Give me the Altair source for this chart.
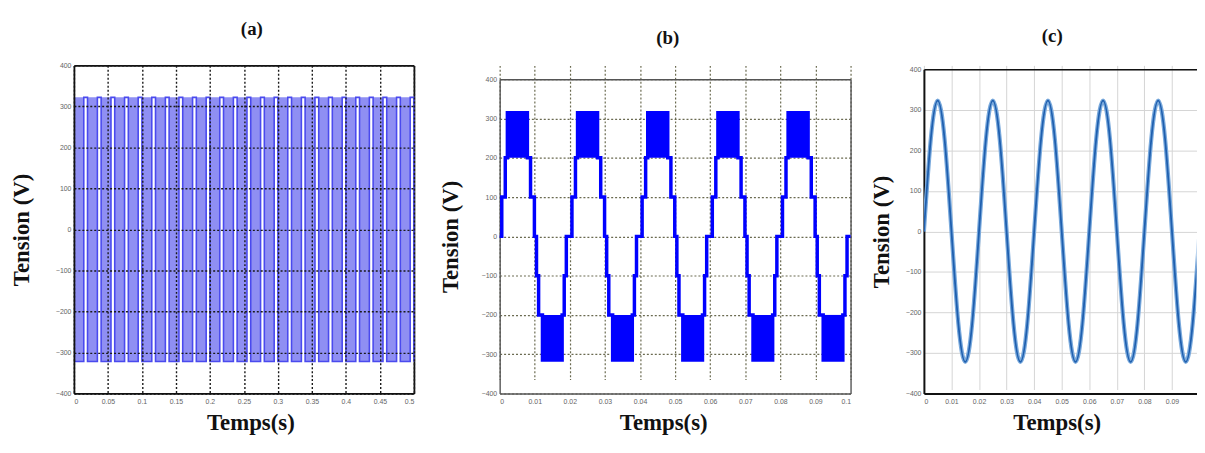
import altair as alt
import pandas as pd

# ---------------- data ----------------
# (a) two-level inverter output: one switching cycle every 0.02 s
a_cycle_start = [0.00, 0.02, 0.04, 0.06, 0.08, 0.10, 0.12, 0.14, 0.16, 0.18,
                 0.20, 0.22, 0.24, 0.26, 0.28, 0.30, 0.32, 0.34, 0.36, 0.38,
                 0.40, 0.42, 0.44, 0.46, 0.48]
a_band_length = 0.0145
a_high = 322
a_low = -322
a_x_ticks = [0, 0.05, 0.1, 0.15, 0.2, 0.25, 0.3, 0.35, 0.4, 0.45, 0.5]

# (b) multilevel staircase, one period = 0.02 s
b_period_start = [0.00, 0.02, 0.04, 0.06, 0.08]
b_step_t = [0.0000, 0.0006, 0.0016, 0.0022, 0.0079, 0.0088, 0.0099,
            0.0105, 0.0111, 0.0122, 0.0178, 0.0184, 0.0190]
b_step_v = [0, 100, 200, 315, 200, 100, 0, -100, -200, -315, -200, -100, 0]
b_block_t0 = [0.0022, 0.0122]
b_block_t1 = [0.0079, 0.0178]
b_block_lo = [200, -315]
b_block_hi = [315, -200]
b_end_t = 0.1
b_end_v = 0
b_x_ticks = [0, 0.01, 0.02, 0.03, 0.04, 0.05, 0.06, 0.07, 0.08, 0.09, 0.1]

# (c) filtered sinusoidal output
c_t = [0.0, 0.0025, 0.005, 0.0075, 0.01, 0.0125, 0.015, 0.0175, 0.02, 0.0225,
       0.025, 0.0275, 0.03, 0.0325, 0.035, 0.0375, 0.04, 0.0425, 0.045, 0.0475,
       0.05, 0.0525, 0.055, 0.0575, 0.06, 0.0625, 0.065, 0.0675, 0.07, 0.0725,
       0.075, 0.0775, 0.08, 0.0825, 0.085, 0.0875, 0.09, 0.0925, 0.095, 0.0975, 0.1]
c_v = [0, 228, 323, 228, 0, -228, -322, -228,
       0, 228, 323, 228, 0, -228, -322, -228,
       0, 228, 323, 228, 0, -228, -322, -228,
       0, 228, 323, 228, 0, -228, -322, -228,
       0, 228, 323, 228, 0, -228, -322, -228, 0]
c_x_ticks = [0, 0.01, 0.02, 0.03, 0.04, 0.05, 0.06, 0.07, 0.08, 0.09]

y_ticks = [-400, -300, -200, -100, 0, 100, 200, 300, 400]
panel_titles = ["(a)", "(b)", "(c)"]
y_title = "Tension (V)"
x_title = "Temps(s)"

# ---------------- tables ----------------
a_bands = pd.DataFrame({
    "t0": a_cycle_start,
    "t1": [c + a_band_length for c in a_cycle_start],
    "lo": [a_low] * len(a_cycle_start),
    "hi": [a_high] * len(a_cycle_start),
})
a_rows = []
for c in a_cycle_start:
    a_rows.append({"t": c, "v": a_low})
    a_rows.append({"t": c + a_band_length, "v": a_high})
a_rows.append({"t": 0.5, "v": a_low})
a_line = pd.DataFrame(a_rows)

b_rows = []
for p in b_period_start:
    for t, v in zip(b_step_t, b_step_v):
        b_rows.append({"t": round(p + t, 5), "v": v})
b_rows.append({"t": b_end_t, "v": b_end_v})
b_line = pd.DataFrame(b_rows)
b_block_rows = []
for p in b_period_start:
    for t0, t1, lo, hi in zip(b_block_t0, b_block_t1, b_block_lo, b_block_hi):
        b_block_rows.append({"t0": p + t0, "t1": p + t1, "lo": lo, "hi": hi})
b_blocks = pd.DataFrame(b_block_rows)

c_line = pd.DataFrame({"t": c_t, "v": c_v})

# ---------------- styling helpers ----------------
SERIF = "Liberation Serif"
SANS = "Liberation Sans"
H = 331  # common view height (all plots share the same bottom)
XT_Y = 36  # x-title baseline below the plot bottom


def y_axis(tx, gcolor, gdash, gwidth, z=0, dcolor="#111", dwidth=2):
    kw = dict(values=y_ticks, format="d", title=y_title, titleX=tx,
              titleBaseline="middle", titleFont=SERIF, titleFontSize=23,
              titleFontWeight="bold", titleColor="#111",
              labelFont=SANS, labelFontSize=7, labelColor="#666", labelPadding=3,
              ticks=False, grid=True, gridColor=gcolor, gridWidth=gwidth,
              zindex=z, domain=True, domainColor=dcolor, domainWidth=dwidth)
    if gdash:
        kw["gridDash"] = gdash
    return alt.Axis(**kw)


def y_right(dcolor, dwidth):
    return alt.Axis(orient="right", title=None, labels=False, ticks=False,
                    grid=False, domain=True, domainColor=dcolor, domainWidth=dwidth)


def x_bottom(values, tx, ty, gcolor, gdash, gwidth, z=0, dcolor="#111", dwidth=2):
    kw = dict(values=values, format="~g", title=x_title, titleX=tx, titleY=ty,
              titleBaseline="alphabetic", titleAlign="center", titleFont=SERIF,
              titleFontSize=23, titleFontWeight="bold", titleColor="#111",
              labelFont=SANS, labelFontSize=7, labelColor="#666", labelPadding=4,
              ticks=False, grid=True, gridColor=gcolor, gridWidth=gwidth,
              zindex=z, domain=True, domainColor=dcolor, domainWidth=dwidth,
              labelOverlap=False)
    if gdash:
        kw["gridDash"] = gdash
    return alt.Axis(**kw)


def x_top(title, tx, ty, offset, dcolor, dwidth, label_pad=None):
    kw = dict(orient="top", values=[0], title=title, titleX=tx, titleY=ty,
              titleBaseline="alphabetic", titleAlign="center", titleFont=SERIF,
              titleFontSize=19, titleFontWeight="bold", titleColor="#111",
              ticks=False, tickSize=0, grid=False, offset=offset,
              domain=True, domainColor=dcolor, domainWidth=dwidth)
    if label_pad is None:
        kw["labels"] = False
    else:
        kw.update(labelColor="#ffffff", labelFontSize=8, labelPadding=label_pad)
    return alt.Axis(**kw)


# ---------------- panel (a) ----------------
xa = alt.Scale(domain=[0, 0.5], nice=False, zero=False)
ya = alt.Scale(domain=[-400, 400], nice=False, zero=False, range=[H, 0])
a_rect = alt.Chart(a_bands).mark_rect(color="#8f8ff3").encode(
    x=alt.X("t0:Q", scale=xa,
            axis=x_bottom(a_x_ticks, 178, XT_Y, "#1a1a1a", [2, 2], 1.4, z=1, dwidth=1.8)),
    x2="t1:Q",
    y=alt.Y("lo:Q", scale=ya, axis=y_axis(-53, "#1a1a1a", [2, 2], 1.4, z=1, dwidth=1.8)),
    y2="hi:Q",
)
a_wave = alt.Chart(a_line).mark_line(color="#4a4aee", strokeWidth=1.6,
                                     interpolate="step-after").encode(
    x=alt.X("t:Q", scale=xa, axis=x_top(panel_titles[0], 179, -31, 0, "#111", 1.8, label_pad=48)),
    y=alt.Y("v:Q", scale=ya, axis=y_right("#111", 1.8)),
)
panel_a = alt.layer(a_rect, a_wave).resolve_axis(x="independent", y="independent").properties(
    width=343, height=H, view=alt.ViewBackground(stroke=None),
)

# ---------------- panel (b) ----------------
xb = alt.Scale(domain=[0, 0.1], nice=False, zero=False)
yb = alt.Scale(domain=[-400, 400], nice=False, zero=False, range=[H, 14])
b_rect = alt.Chart(b_blocks).mark_rect(color="#0000ff").encode(
    x=alt.X("t0:Q", scale=xb,
            axis=x_bottom(b_x_ticks, 165, XT_Y, "#6a6a50", [2, 2], 1.2, dcolor="#555", dwidth=1.4)),
    x2="t1:Q",
    y=alt.Y("lo:Q", scale=yb, axis=y_axis(-50, "#6a6a50", [2, 2], 1.2, dcolor="#555", dwidth=1.4)),
    y2="hi:Q",
)
b_wave = alt.Chart(b_line).mark_line(color="#0000ff", strokeWidth=3.5,
                                     interpolate="step-after").encode(
    x=alt.X("t:Q", scale=xb, axis=x_top(panel_titles[1], 169, -36, -14, "#555", 1.4)),
    y=alt.Y("v:Q", scale=yb, axis=y_right("#555", 1.4)),
)
panel_b = alt.layer(b_rect, b_wave).resolve_axis(x="independent", y="independent").properties(
    width=354, height=H, view=alt.ViewBackground(stroke=None),
)

# ---------------- panel (c) ----------------
xc = alt.Scale(domain=[0, 0.0989], nice=False, zero=False)
yc = alt.Scale(domain=[-400, 400], nice=False, zero=False, range=[H, 4])
c_glow = alt.Chart(c_line).mark_line(color="#79a9dc", strokeWidth=4.2,
                                     interpolate="natural", clip=True).encode(
    x=alt.X("t:Q", scale=xc, axis=x_top(panel_titles[2], 129, -28, -4, "#111", 1.5)),
    y=alt.Y("v:Q", scale=yc, axis=y_axis(-43, "#d4d4d4", None, 1)),
)
c_wave = alt.Chart(c_line).mark_line(color="#1f5fae", strokeWidth=1.8,
                                     interpolate="natural", clip=True).encode(
    x=alt.X("t:Q", scale=xc, axis=x_bottom(c_x_ticks, 134, XT_Y, "#d4d4d4", None, 1)),
    y=alt.Y("v:Q", scale=yc, axis=y_axis(-43, "#d4d4d4", None, 1)),
)
panel_c = alt.layer(c_glow, c_wave).resolve_axis(x="independent").properties(
    width=275, height=H, view=alt.ViewBackground(stroke=None),
)

inner = alt.hconcat(panel_a, panel_b, spacing=21.5)
chart = alt.hconcat(inner, panel_c, spacing=12.5).properties(
    padding={"left": 2.5, "top": 0, "right": 0, "bottom": 0},
    background="white",
)

chart.save("out.html", embed_options={"renderer": "svg", "actions": False})
